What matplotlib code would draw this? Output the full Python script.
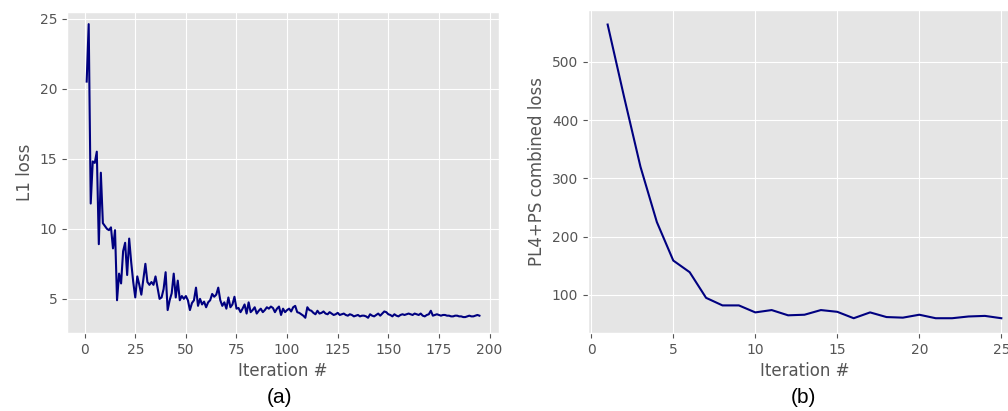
import numpy as np
import matplotlib
matplotlib.use('Agg')
import matplotlib.pyplot as plt

plt.style.use('ggplot')

# Panel (a): L1 loss per iteration (1..195)
l1_loss = [
    20.5, 24.6, 11.8, 14.8, 14.7, 15.5, 8.9, 14.0, 10.4, 10.2,
    10.0, 9.9, 10.1, 8.6, 9.9, 4.9, 6.8, 6.1, 8.4, 9.0,
    6.7, 9.3, 7.6, 6.2, 5.1, 6.6, 6.0, 5.3, 6.4, 7.5,
    6.2, 6.0, 6.2, 6.0, 6.6, 5.8, 5.0, 5.1, 5.7, 6.9,
    4.2, 4.9, 5.4, 6.8, 5.1, 6.3, 4.9, 5.2, 5.0, 5.2,
    4.9, 4.2, 4.7, 4.9, 5.8, 4.5, 5.0, 4.6, 4.8, 4.4,
    4.75, 4.9, 5.35, 5.15, 5.3, 5.8, 4.9, 4.5, 4.75, 4.3,
    5.1, 4.4, 4.6, 5.15, 4.3, 4.35, 4.05, 4.3, 4.6, 3.95,
    4.75, 4.05, 4.2, 4.4, 3.95, 4.15, 4.3, 4.05, 4.2, 4.4,
    4.3, 4.45, 4.35, 4.05, 4.3, 4.45, 3.85, 4.3, 4.05, 4.2,
    4.3, 4.1, 4.4, 4.5, 4.05, 4.0, 3.9, 3.8, 3.65, 4.4,
    4.2, 4.15, 4.0, 3.9, 4.15, 3.95, 4.0, 4.1, 3.95, 3.9,
    4.05, 3.95, 3.85, 3.9, 4.0, 3.85, 3.9, 3.95, 3.85, 3.8,
    3.9, 3.85, 3.75, 3.8, 3.85, 3.75, 3.8, 3.8, 3.75, 3.65,
    3.9, 3.8, 3.75, 3.85, 3.95, 3.8, 3.95, 4.1, 4.05, 3.9,
    3.85, 3.75, 3.9, 3.8, 3.75, 3.85, 3.9, 3.85, 3.9, 3.95,
    3.9, 3.85, 3.95, 3.9, 3.85, 3.95, 3.8, 3.75, 3.85, 3.9,
    4.15, 3.8, 3.85, 3.9, 3.85, 3.8, 3.85, 3.85, 3.8, 3.8,
    3.75, 3.75, 3.8, 3.8, 3.75, 3.75, 3.7, 3.7, 3.75, 3.8,
    3.75, 3.75, 3.8, 3.85, 3.8,
]
iters_a = np.arange(1, len(l1_loss) + 1)

# Panel (b): PL4+PS combined loss per iteration (1..25)
combined_loss = [564, 440, 320, 225, 159, 139, 95, 82, 82, 70,
                 74, 65, 66, 74, 71, 60, 70, 62, 61, 66,
                 60, 60, 63, 64, 60]
iters_b = np.arange(1, len(combined_loss) + 1)

fig = plt.figure(figsize=(10.08, 4.11), dpi=100)

ax1 = fig.add_axes([0.0665, 0.19, 0.4286, 0.782])
ax1.plot(iters_a, l1_loss, color='navy', linewidth=1.5)
ax1.set_ylim(2.57, 25.5)
ax1.set_xticks([0, 25, 50, 75, 100, 125, 150, 175, 200])
ax1.set_xlabel('Iteration #')
ax1.set_ylabel('L1 loss')

ax2 = fig.add_axes([0.5833, 0.19, 0.4296, 0.786])
ax2.plot(iters_b, combined_loss, color='navy', linewidth=1.5)
ax2.set_xticks([0, 5, 10, 15, 20, 25])
ax2.set_yticks([100, 200, 300, 400, 500])
ax2.set_xlabel('Iteration #')
ax2.set_ylabel('PL4+PS combined loss')

for ax in (ax1, ax2):
    ax.tick_params(labelsize=10)

fig.text(280 / 1008, 1 - 397 / 411, '(a)', ha='center', va='center',
         fontsize=15, family='Liberation Sans', color='black')
fig.text(803 / 1008, 1 - 397 / 411, '(b)', ha='center', va='center',
         fontsize=15, family='Liberation Sans', color='black')

fig.savefig('out.png', dpi=100)
